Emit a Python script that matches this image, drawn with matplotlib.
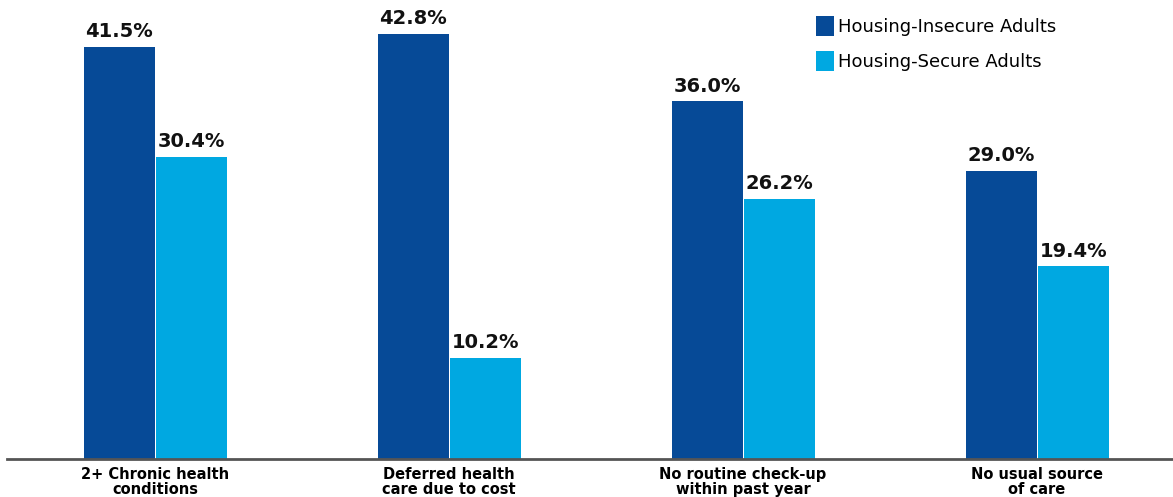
import numpy as np
import matplotlib.pyplot as plt

# data
categories = ['2+ Chronic health\nconditions', 'Deferred health\ncare due to cost',
              'No routine check-up\nwithin past year', 'No usual source\nof care']
insecure = [41.5, 42.8, 36.0, 29.0]
secure = [30.4, 10.2, 26.2, 19.4]
series_names = ['Housing-Insecure Adults', 'Housing-Secure Adults']

dark = '#064a97'
light = '#00a8e1'

fig = plt.figure(figsize=(11.73, 4.97), dpi=100)
# axes placed so the baseline sits where the reference has it
ax = fig.add_axes([7 / 1173, 38 / 497, 1166 / 1173, 459 / 497])

x = np.arange(len(categories))
w = 0.242
b1 = ax.bar(x - w / 2, insecure, w, color=dark, label=series_names[0])
b2 = ax.bar(x + w / 2 + 0.003, secure, w, color=light, label=series_names[1])

for bars in (b1, b2):
    for r in bars:
        ax.annotate(f'{r.get_height():.1f}%', (r.get_x() + r.get_width() / 2, r.get_height()),
                    xytext=(0, 4), textcoords='offset points', ha='center', va='bottom',
                    fontsize=14, fontweight='bold', color='#111111')

ax.set_xlim(-0.503, 3.463)
ax.set_ylim(0, 46.2)
ax.set_yticks([])
ax.set_xticks(x)
ax.set_xticklabels(categories, fontsize=10.5, fontweight='bold', linespacing=1.0)
ax.tick_params(axis='x', length=0, pad=6)
for s in ['top', 'right', 'left']:
    ax.spines[s].set_visible(False)
ax.spines['bottom'].set_color('#555555')
ax.spines['bottom'].set_linewidth(2)

leg = fig.legend(loc='upper left', bbox_to_anchor=(800 / 1173, 1 - 0 / 497), frameon=False,
                 prop={'size': 13}, handlelength=1.0, handleheight=1.3,
                 handletextpad=0.2, labelspacing=0.85)

plt.savefig('out.png', dpi=100)
